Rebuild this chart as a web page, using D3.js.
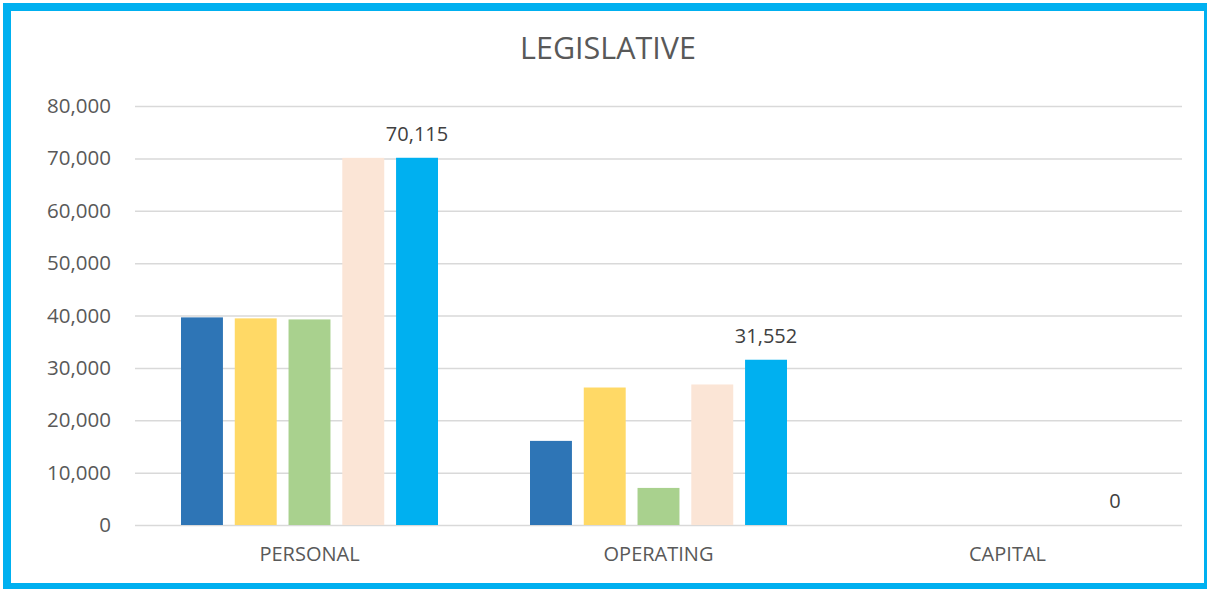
<!DOCTYPE html>
<html>
<head>
<meta charset="utf-8">
<script src="https://cdn.jsdelivr.net/npm/d3@7"></script>
<style>
  body { margin: 0; background: #fff; }
  svg { display: block; font-family: 'Open Sans', sans-serif; }
</style>
</head>
<body>
<script>
// data
const categories = ['PERSONAL', 'OPERATING', 'CAPITAL'];
const seriesNames = ['s1', 's2', 's3', 's4', 's5'];
const s1 = [39640, 16060, 0];
const s2 = [39450, 26250, 0];
const s3 = [39250, 7080, 0];
const s4 = [70100, 26830, 0];
const s5 = [70115, 31552, 0];
const yTicks = [0, 10000, 20000, 30000, 40000, 50000, 60000, 70000, 80000];
const colors = ['#2E75B6', '#FFD966', '#A9D18E', '#FBE5D6', '#00B0F0'];

const allSeries = [s1, s2, s3, s4, s5];

// setting canvas
const width = 1207;
const height = 589;
const margin = { top: 106, left: 135, bottom: 64, right: 25 };

const svg = d3.select('body').append('svg').attr('width', width).attr('height', height);

// frame
svg.append('rect')
  .attr('x', 7).attr('y', 7)
  .attr('width', 1201).attr('height', 580)
  .attr('fill', '#fff')
  .attr('stroke', '#00B0F0')
  .attr('stroke-width', 8);

// title
svg.append('text')
  .text('LEGISLATIVE')
  .attr('x', 608).attr('y', 59)
  .attr('text-anchor', 'middle')
  .attr('fill', '#595959')
  .attr('font-size', '30.5px');

// scales
const x = d3.scaleBand()
  .domain(categories)
  .range([margin.left, width - margin.right]);

const xInner = d3.scaleBand()
  .domain(seriesNames)
  .range([46, x.bandwidth() - 46])
  .paddingInner(0.22);

const y = d3.scaleLinear()
  .domain([0, 80000])
  .range([height - margin.bottom, margin.top]);

// grid + y labels
const yAxis = (g) =>
  g.attr('transform', `translate(${margin.left}, 0)`)
    .call(d3.axisLeft(y).tickValues(yTicks).tickSize(-(width - margin.left - margin.right))
      .tickFormat(d3.format(',')).tickPadding(24))
    .call((g) => g.select('.domain').remove())
    .call((g) => g.selectAll('.tick line').attr('stroke', '#D9D9D9').attr('stroke-width', 1.5))
    .call((g) => g.selectAll('.tick text').attr('fill', '#595959').attr('font-size', '20.5px')
      .attr('font-family', "'Open Sans', sans-serif"));

svg.append('g').call(yAxis);

// x labels
const xAxis = (g) =>
  g.attr('transform', `translate(0, ${height - margin.bottom})`)
    .call(d3.axisBottom(x).tickSize(0).tickPadding(22))
    .call((g) => g.select('.domain').remove())
    .call((g) => g.selectAll('.tick text').attr('fill', '#595959').attr('font-size', '20px')
      .attr('font-family', "'Open Sans', sans-serif"));

svg.append('g').call(xAxis);

// bars
const barData = [];
categories.forEach((c, i) => {
  seriesNames.forEach((s, j) => {
    barData.push({ cat: c, series: s, value: allSeries[j][i], color: colors[j] });
  });
});

svg.append('g')
  .selectAll('rect')
  .data(barData)
  .enter()
  .append('rect')
  .attr('x', (d) => x(d.cat) + xInner(d.series))
  .attr('y', (d) => y(d.value))
  .attr('width', xInner.bandwidth())
  .attr('height', (d) => y(0) - y(d.value))
  .attr('fill', (d) => d.color);

// labels on last series
svg.append('g')
  .selectAll('text')
  .data(barData.filter((d) => d.series === 's5'))
  .enter()
  .append('text')
  .text((d) => d3.format(',')(d.value))
  .attr('x', (d) => x(d.cat) + xInner(d.series) + xInner.bandwidth() / 2)
  .attr('y', (d) => y(d.value) - 17)
  .attr('fill', '#404040')
  .attr('font-size', '20px')
  .attr('text-anchor', 'middle');
</script>
</body>
</html>
